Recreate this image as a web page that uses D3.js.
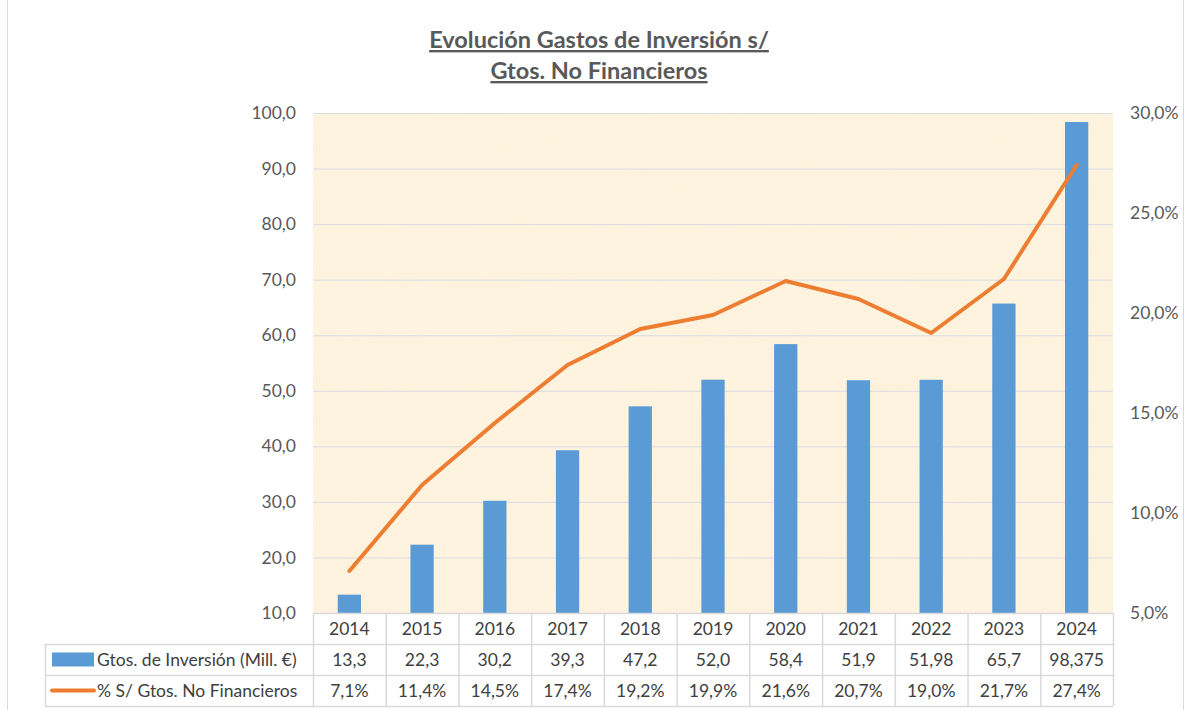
<!DOCTYPE html>
<html>
<head>
<meta charset="utf-8">
<script src="https://cdn.jsdelivr.net/npm/d3@7"></script>
<style>
  body { margin: 0; background: #fff; }
  text { font-family: Lato, "Open Sans", sans-serif; }
</style>
</head>
<body>
<div class="chart"></div>
<script>
var years = ["2014","2015","2016","2017","2018","2019","2020","2021","2022","2023","2024"];
var inversion = [13.3, 22.3, 30.2, 39.3, 47.2, 52.0, 58.4, 51.9, 51.98, 65.7, 98.375];
var inversionLabels = ["13,3","22,3","30,2","39,3","47,2","52,0","58,4","51,9","51,98","65,7","98,375"];
var porcentaje = [7.1, 11.4, 14.5, 17.4, 19.2, 19.9, 21.6, 20.7, 19.0, 21.7, 27.4];
var leftTicks = [10,20,30,40,50,60,70,80,90,100];
var rightTicks = [5,10,15,20,25,30];
var seriesNames = ["Gtos. de Inversión (Mill. €)", "% S/ Gtos. No Financieros"];

var svgWidth = 1187, svgHeight = 710;
var plot = {left: 313, right: 1113, top: 113, bottom: 613};
var rowH = 31;
var fs = "17.5px";
var fmt = function(v, d) { return v.toFixed(d).replace(".", ","); };

var svg = d3.select(".chart").append("svg")
    .attr("width", svgWidth)
    .attr("height", svgHeight);

// parchment texture
var defs = svg.append("defs");
var filt = defs.append("filter").attr("id", "paper")
    .attr("x", 0).attr("y", 0).attr("width", 1).attr("height", 1);
filt.append("feTurbulence").attr("type", "fractalNoise")
    .attr("baseFrequency", "0.012 0.03").attr("numOctaves", 3).attr("seed", 4).attr("result", "noise");
filt.append("feColorMatrix").attr("in", "noise").attr("type", "matrix")
    .attr("values", "0 0 0 0 0.98  0 0 0 0 0.91  0 0 0 0 0.76  0 0 0 0.6 0").attr("result", "tint");
filt.append("feComposite").attr("in", "tint").attr("in2", "SourceGraphic").attr("operator", "in");

// chart border
svg.append("rect")
    .attr("x", 7.5).attr("y", -1).attr("width", 1176).attr("height", 712)
    .attr("fill", "none").attr("stroke", "#d9d9d9");

var x = d3.scaleBand().domain(years).range([plot.left, plot.right]).padding(0);
var yL = d3.scaleLinear().domain([10, 100]).range([plot.bottom, plot.top]);
var yR = d3.scaleLinear().domain([5, 30]).range([plot.bottom, plot.top]);

// plot background
svg.append("rect")
    .attr("x", plot.left).attr("y", plot.top)
    .attr("width", plot.right - plot.left).attr("height", plot.bottom - plot.top)
    .attr("fill", "#fdf2dc");
svg.append("rect")
    .attr("x", plot.left).attr("y", plot.top)
    .attr("width", plot.right - plot.left).attr("height", plot.bottom - plot.top)
    .attr("fill", "#fff").attr("filter", "url(#paper)");

// gridlines
svg.append("g").selectAll("line")
    .data(leftTicks.slice(1))
    .enter().append("line")
    .attr("x1", plot.left).attr("x2", plot.right)
    .attr("y1", function(d) { return yL(d) + 0.5; })
    .attr("y2", function(d) { return yL(d) + 0.5; })
    .attr("stroke", "#d9dce3").attr("stroke-width", 1);

// left axis labels
svg.append("g").selectAll("text")
    .data(leftTicks)
    .enter().append("text")
    .attr("x", 296).attr("y", function(d) { return yL(d); })
    .attr("dy", "0.35em").attr("text-anchor", "end")
    .attr("font-size", fs).attr("fill", "#595959")
    .text(function(d) { return fmt(d, 1); });

// right axis labels
svg.append("g").selectAll("text")
    .data(rightTicks)
    .enter().append("text")
    .attr("x", 1130).attr("y", function(d) { return yR(d); })
    .attr("dy", "0.35em").attr("text-anchor", "start")
    .attr("font-size", fs).attr("fill", "#595959")
    .text(function(d) { return fmt(d, 1) + "%"; });

// bars
var barW = x.bandwidth() * 0.32;
svg.append("g").selectAll("rect")
    .data(inversion)
    .enter().append("rect")
    .attr("x", function(d, i) { return x(years[i]) + x.bandwidth() / 2 - barW / 2; })
    .attr("y", function(d) { return yL(d); })
    .attr("width", barW)
    .attr("height", function(d) { return plot.bottom - yL(d); })
    .attr("fill", "#5b9bd5");

// line
var line = d3.line()
    .x(function(d, i) { return x(years[i]) + x.bandwidth() / 2; })
    .y(function(d) { return yR(d); });
svg.append("path")
    .datum(porcentaje)
    .attr("d", line)
    .attr("fill", "none")
    .attr("stroke", "#ed7d31")
    .attr("stroke-width", 4)
    .attr("stroke-linecap", "round")
    .attr("stroke-linejoin", "round");

// title
var title = svg.append("g").attr("fill", "#595959");
["Evolución Gastos de Inversión s/", "Gtos. No Financieros"].forEach(function(t, i) {
    title.append("text")
        .attr("x", 599).attr("y", 48 + i * 31)
        .attr("text-anchor", "middle")
        .attr("font-size", "23.5px").attr("font-weight", "bold")
        .attr("text-decoration", "underline")
        .text(t);
});

// data table
var table = svg.append("g");
var gridColor = "#d9d9d9";
var tTop = plot.bottom, tLeft = 45;
// horizontal lines
[0, 1, 2, 3].forEach(function(r) {
    table.append("line")
        .attr("x1", r === 0 ? plot.left : tLeft).attr("x2", plot.right)
        .attr("y1", tTop + r * rowH + 0.5).attr("y2", tTop + r * rowH + 0.5)
        .attr("stroke", gridColor).attr("stroke-width", 1.5);
});
// vertical lines
years.concat(["end"]).forEach(function(y, i) {
    var xx = i < years.length ? x(y) : plot.right;
    table.append("line")
        .attr("x1", xx + 0.5).attr("x2", xx + 0.5)
        .attr("y1", tTop).attr("y2", tTop + 3 * rowH)
        .attr("stroke", gridColor).attr("stroke-width", 1.5);
});
table.append("line")
    .attr("x1", tLeft + 0.5).attr("x2", tLeft + 0.5)
    .attr("y1", tTop + rowH).attr("y2", tTop + 3 * rowH)
    .attr("stroke", gridColor).attr("stroke-width", 1.5);

var rows = [years, inversionLabels, porcentaje.map(function(v) { return fmt(v, 1) + "%"; })];
rows.forEach(function(row, r) {
    table.append("g").selectAll("text")
        .data(row)
        .enter().append("text")
        .attr("x", function(d, i) { return x(years[i]) + x.bandwidth() / 2; })
        .attr("y", tTop + r * rowH + rowH / 2)
        .attr("dy", "0.35em").attr("text-anchor", "middle")
        .attr("font-size", fs).attr("fill", "#404040")
        .text(function(d) { return d; });
});

// legend keys and row labels
table.append("rect")
    .attr("x", 52).attr("y", tTop + rowH + rowH / 2 - 7)
    .attr("width", 42).attr("height", 14)
    .attr("fill", "#5b9bd5");
table.append("line")
    .attr("x1", 52).attr("x2", 94)
    .attr("y1", tTop + 2 * rowH + rowH / 2).attr("y2", tTop + 2 * rowH + rowH / 2)
    .attr("stroke", "#ed7d31").attr("stroke-width", 4).attr("stroke-linecap", "round");
seriesNames.forEach(function(n, i) {
    table.append("text")
        .attr("x", 97).attr("y", tTop + (i + 1) * rowH + rowH / 2)
        .attr("dy", "0.35em")
        .attr("font-size", fs).attr("fill", "#404040")
        .text(n);
});
</script>
</body>
</html>
